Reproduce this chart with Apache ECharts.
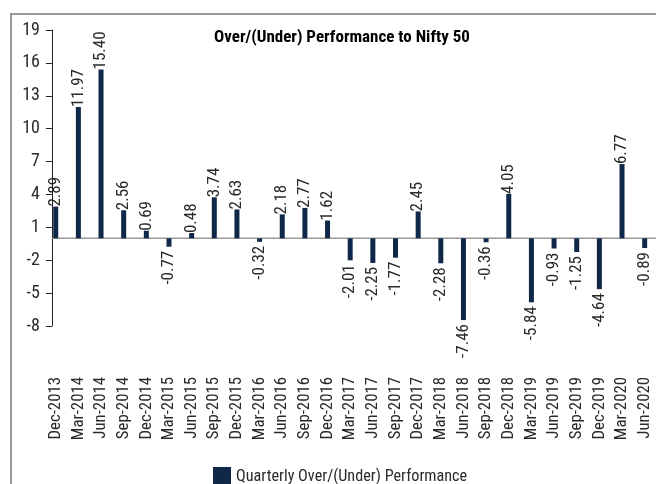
<!DOCTYPE html>
<html lang="en">
  <head>
    <meta charset="UTF-8" />
    <title>Over/(Under) Performance to Nifty 50</title>
    <script src="https://cdn.jsdelivr.net/npm/echarts@6/dist/echarts.min.js"></script>
    <style>
      body { margin: 0; background: #fff; }
    </style>
  </head>
  <body>
    <div id="main" style="width: 656px; height: 484px"></div>

    <script>
      var quarters = [
        "Dec-2013", "Mar-2014", "Jun-2014", "Sep-2014", "Dec-2014", "Mar-2015",
        "Jun-2015", "Sep-2015", "Dec-2015", "Mar-2016", "Jun-2016", "Sep-2016",
        "Dec-2016", "Mar-2017", "Jun-2017", "Sep-2017", "Dec-2017", "Mar-2018",
        "Jun-2018", "Sep-2018", "Dec-2018", "Mar-2019", "Jun-2019", "Sep-2019",
        "Dec-2019", "Mar-2020", "Jun-2020",
      ]
      var performance = [
        2.89, 11.97, 15.4, 2.56, 0.69, -0.77, 0.48, 3.74, 2.63, -0.32, 2.18, 2.77,
        1.62, -2.01, -2.25, -1.77, 2.45, -2.28, -7.46, -0.36, 4.05, -5.84, -0.93,
        -1.25, -4.64, 6.77, -0.89,
      ]
      var yTicks = { min: -8, max: 19, step: 3 }

      var font = "'Roboto Condensed', 'Liberation Sans Narrow', 'DejaVu Sans Condensed', sans-serif"
      var barColor = "#0f2749"
      var textColor = "#2a2a2a"

      var mCharts = echarts.init(document.getElementById("main"))

      // label above positive bars, below negative ones, reading upward
      var posLabel = { position: "top", rotate: 90, align: "left", verticalAlign: "middle", distance: 2, offset: [-2, 0] }
      var negLabel = { position: "bottom", rotate: 90, align: "right", verticalAlign: "middle", distance: 2, offset: [-2, 0] }
      var barData = performance.map(function (v) {
        return { value: v, label: v >= 0 ? posLabel : negLabel }
      })

      var option = {
        animation: false,
        title: {
          text: "Over/(Under) Performance to Nifty 50",
          left: 209,
          top: 24,
          textStyle: { fontFamily: font, fontSize: 17, fontWeight: "bold", color: "#000" },
        },
        legend: {
          left: 208,
          top: 462,
          itemWidth: 18,
          itemHeight: 19,
          icon: "rect",
          textStyle: { fontFamily: font, fontSize: 16.2, color: textColor },
          data: ["Quarterly Over/(Under) Performance"],
        },
        grid: { left: 44.4, top: 30, bottom: 158, width: 615.6, containLabel: false },
        xAxis: {
          type: "category",
          data: quarters,
          axisLine: { show: false, onZero: false },
          axisTick: { show: false },
          axisLabel: {
            rotate: 90,
            interval: 0,
            margin: 51,
            fontFamily: font,
            fontSize: 16.8,
            color: textColor,
          },
        },
        yAxis: {
          type: "value",
          min: yTicks.min,
          max: yTicks.max,
          interval: yTicks.step,
          offset: -7.5,
          axisLine: { show: true, lineStyle: { color: "#222", width: 1 } },
          axisTick: { show: true, length: 6, lineStyle: { color: "#222" } },
          splitLine: { show: false },
          axisLabel: { margin: 12, fontFamily: font, fontSize: 18, color: textColor },
        },
        series: [
          {
            name: "Quarterly Over/(Under) Performance",
            type: "bar",
            data: barData,
            barWidth: 5,
            itemStyle: { color: barColor },
            label: {
              show: true,
              fontFamily: font,
              fontSize: 17,
              color: textColor,
              formatter: function (p) {
                return p.value.toFixed(2)
              },
            },
          },
        ],
      }

      mCharts.setOption(option)

      // frame and zero line, placed with the chart's own scale
      var zeroY = mCharts.convertToPixel({ yAxisIndex: 0 }, 0)
      mCharts.setOption({
        graphic: [
          {
            type: "rect",
            shape: { x: 11, y: 14, width: 700, height: 520 },
            style: { fill: "none", stroke: "#9a9a9a", lineWidth: 2 },
            silent: true,
          },
          {
            type: "line",
            shape: { x1: 52, y1: zeroY, x2: 656, y2: zeroY },
            style: { stroke: "#999", lineWidth: 1.5 },
            silent: true,
            z: 1,
          },
        ],
      })
    </script>
  </body>
</html>
